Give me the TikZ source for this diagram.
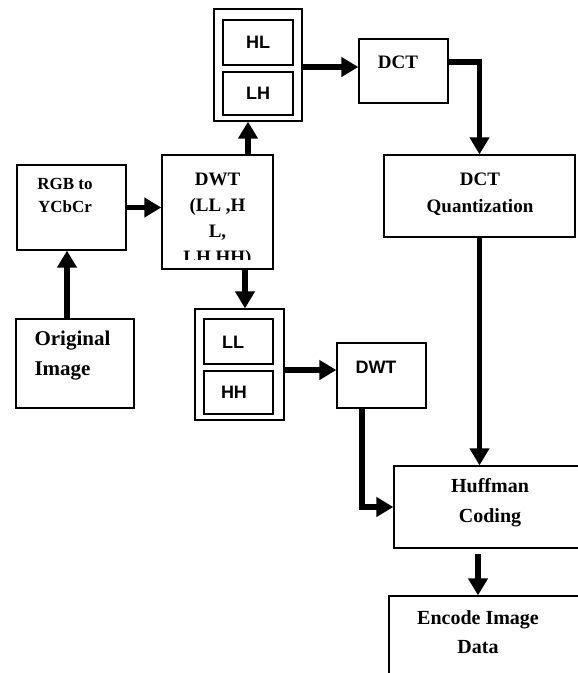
\documentclass[tikz,border=0pt]{standalone}
\usepackage{fontspec}
\setmainfont{Liberation Serif}
\setsansfont{Liberation Sans}
\usetikzlibrary{positioning, arrows.meta}

\begin{document}
\begin{tikzpicture}[x=1pt,y=-1pt,
    blk/.style={draw=black, line width=1.3pt, inner sep=0pt},
    flow/.style={line width=5.5pt, -{Triangle[length=17pt,width=19pt]}},
    serif/.style={font=\fontsize{19}{27}\selectfont\bfseries, align=center},
    sans/.style={font=\fontsize{18}{22}\selectfont\sffamily\bfseries}]

    % Frame
    \useasboundingbox (0,0) rectangle (578,673);
    \clip (0,0) rectangle (578,673);

    % ======================
    % Boxes
    % ======================
    \node[blk, minimum width=109pt, minimum height=85pt]  (rgb)   at (71.5,207.5) {};
    \node[blk, minimum width=111pt, minimum height=114pt] (dwt)   at (217.5,212)  {};
    \node[blk, minimum width=118pt, minimum height=89pt]  (orig)  at (75,363.5)   {};

    % HL / LH pair (top)
    \node[blk, minimum width=88pt, minimum height=112pt]  (hilo)  at (258,65)     {};
    \node[blk, minimum width=70pt, minimum height=45pt]   (hl)    at (258,42.5)   {};
    \node[blk, minimum width=70pt, minimum height=43pt]   (lh)    at (258,93.5)   {};

    % LL / HH pair (bottom)
    \node[blk, minimum width=89pt, minimum height=111pt]  (llhh)  at (239.5,364.5) {};
    \node[blk, minimum width=69pt, minimum height=45pt]   (ll)    at (238.5,341.5) {};
    \node[blk, minimum width=69pt, minimum height=43pt]   (hh)    at (238.5,392.5) {};

    \node[blk, minimum width=89pt, minimum height=64pt]   (dct)   at (403.5,71)   {};
    \node[blk, minimum width=191pt, minimum height=82pt]  (quant) at (479.5,196)  {};
    \node[blk, minimum width=89pt, minimum height=65pt]   (dwtb)  at (381.5,375.5) {};
    \node[blk, minimum width=216pt, minimum height=82pt]  (huff)  at (502,507)    {};
    \node[blk, minimum width=221pt, minimum height=124pt] (enc)   at (499.5,658)  {};

    % ======================
    % Texts
    % ======================
    \node[serif, font=\fontsize{17}{23}\selectfont\bfseries] (rgbtxt) at (65,195.5) {RGB to\\YCbCr};
    \node[serif, font=\fontsize{21}{30}\selectfont\bfseries, align=left, anchor=west] (origtxt) at (31,356) {Original\\Image};

    % DWT text runs out of its box
    \begin{scope}
      \clip (dwt.north west) rectangle ([yshift=10pt]dwt.south east);
      \node[serif, font=\fontsize{19}{26}\selectfont\bfseries] (dwttxt) at (217.5,220.5) {DWT\\(LL ,H\\L,\\LH,HH)};
    \end{scope}

    \node[sans] (hltxt) at (258,42) {HL};
    \node[sans] (lhtxt) at (258,93) {LH};
    \node[sans] (lltxt) at (233,342) {LL};
    \node[sans] (hhtxt) at (234,392) {HH};
    \node[sans] (dwtbtxt) at (376,367) {DWT};

    \node[serif] (dcttxt) at (398,62) {DCT};
    \node[serif] (quanttxt) at (480,194) {DCT\\Quantization};
    \node[serif, font=\fontsize{20}{30}\selectfont\bfseries] (hufftxt) at (490,503) {Huffman\\Coding};
    \node[serif, font=\fontsize{20}{29}\selectfont\bfseries] (enctxt) at (478,632) {Encode Image\\Data};

    % ======================
    % Arrows
    % ======================
    \draw[flow] ([xshift=-8pt]orig.north) -- ([xshift=-8pt]orig.north |- rgb.south);
    \draw[flow] (rgb.east) -- (rgb.east -| dwt.west);
    \draw[flow] ([xshift=30.5pt]dwt.north) -- ([xshift=30.5pt]dwt.north |- hilo.south);
    \draw[flow] ([xshift=27.5pt]dwt.south) -- ([xshift=27.5pt]dwt.south |- llhh.north);
    \draw[flow] ([yshift=-2pt]hilo.east) -- ([yshift=-2pt]hilo.east -| dct.west);
    \draw[flow] ([yshift=9pt]dct.east) -| (quant.north);
    \draw[flow] (quant.south) -- (quant.south |- huff.north);
    \draw[flow] ([yshift=-5.5pt]llhh.east) -- ([yshift=-5.5pt]llhh.east -| dwtb.west);
    \draw[flow] ([xshift=-19.5pt]dwtb.south) |- (huff.west);
    \draw[flow] ([xshift=-24pt,yshift=-5pt]huff.south) -- ([xshift=-24pt]huff.south |- enc.north);

\end{tikzpicture}
\end{document}
